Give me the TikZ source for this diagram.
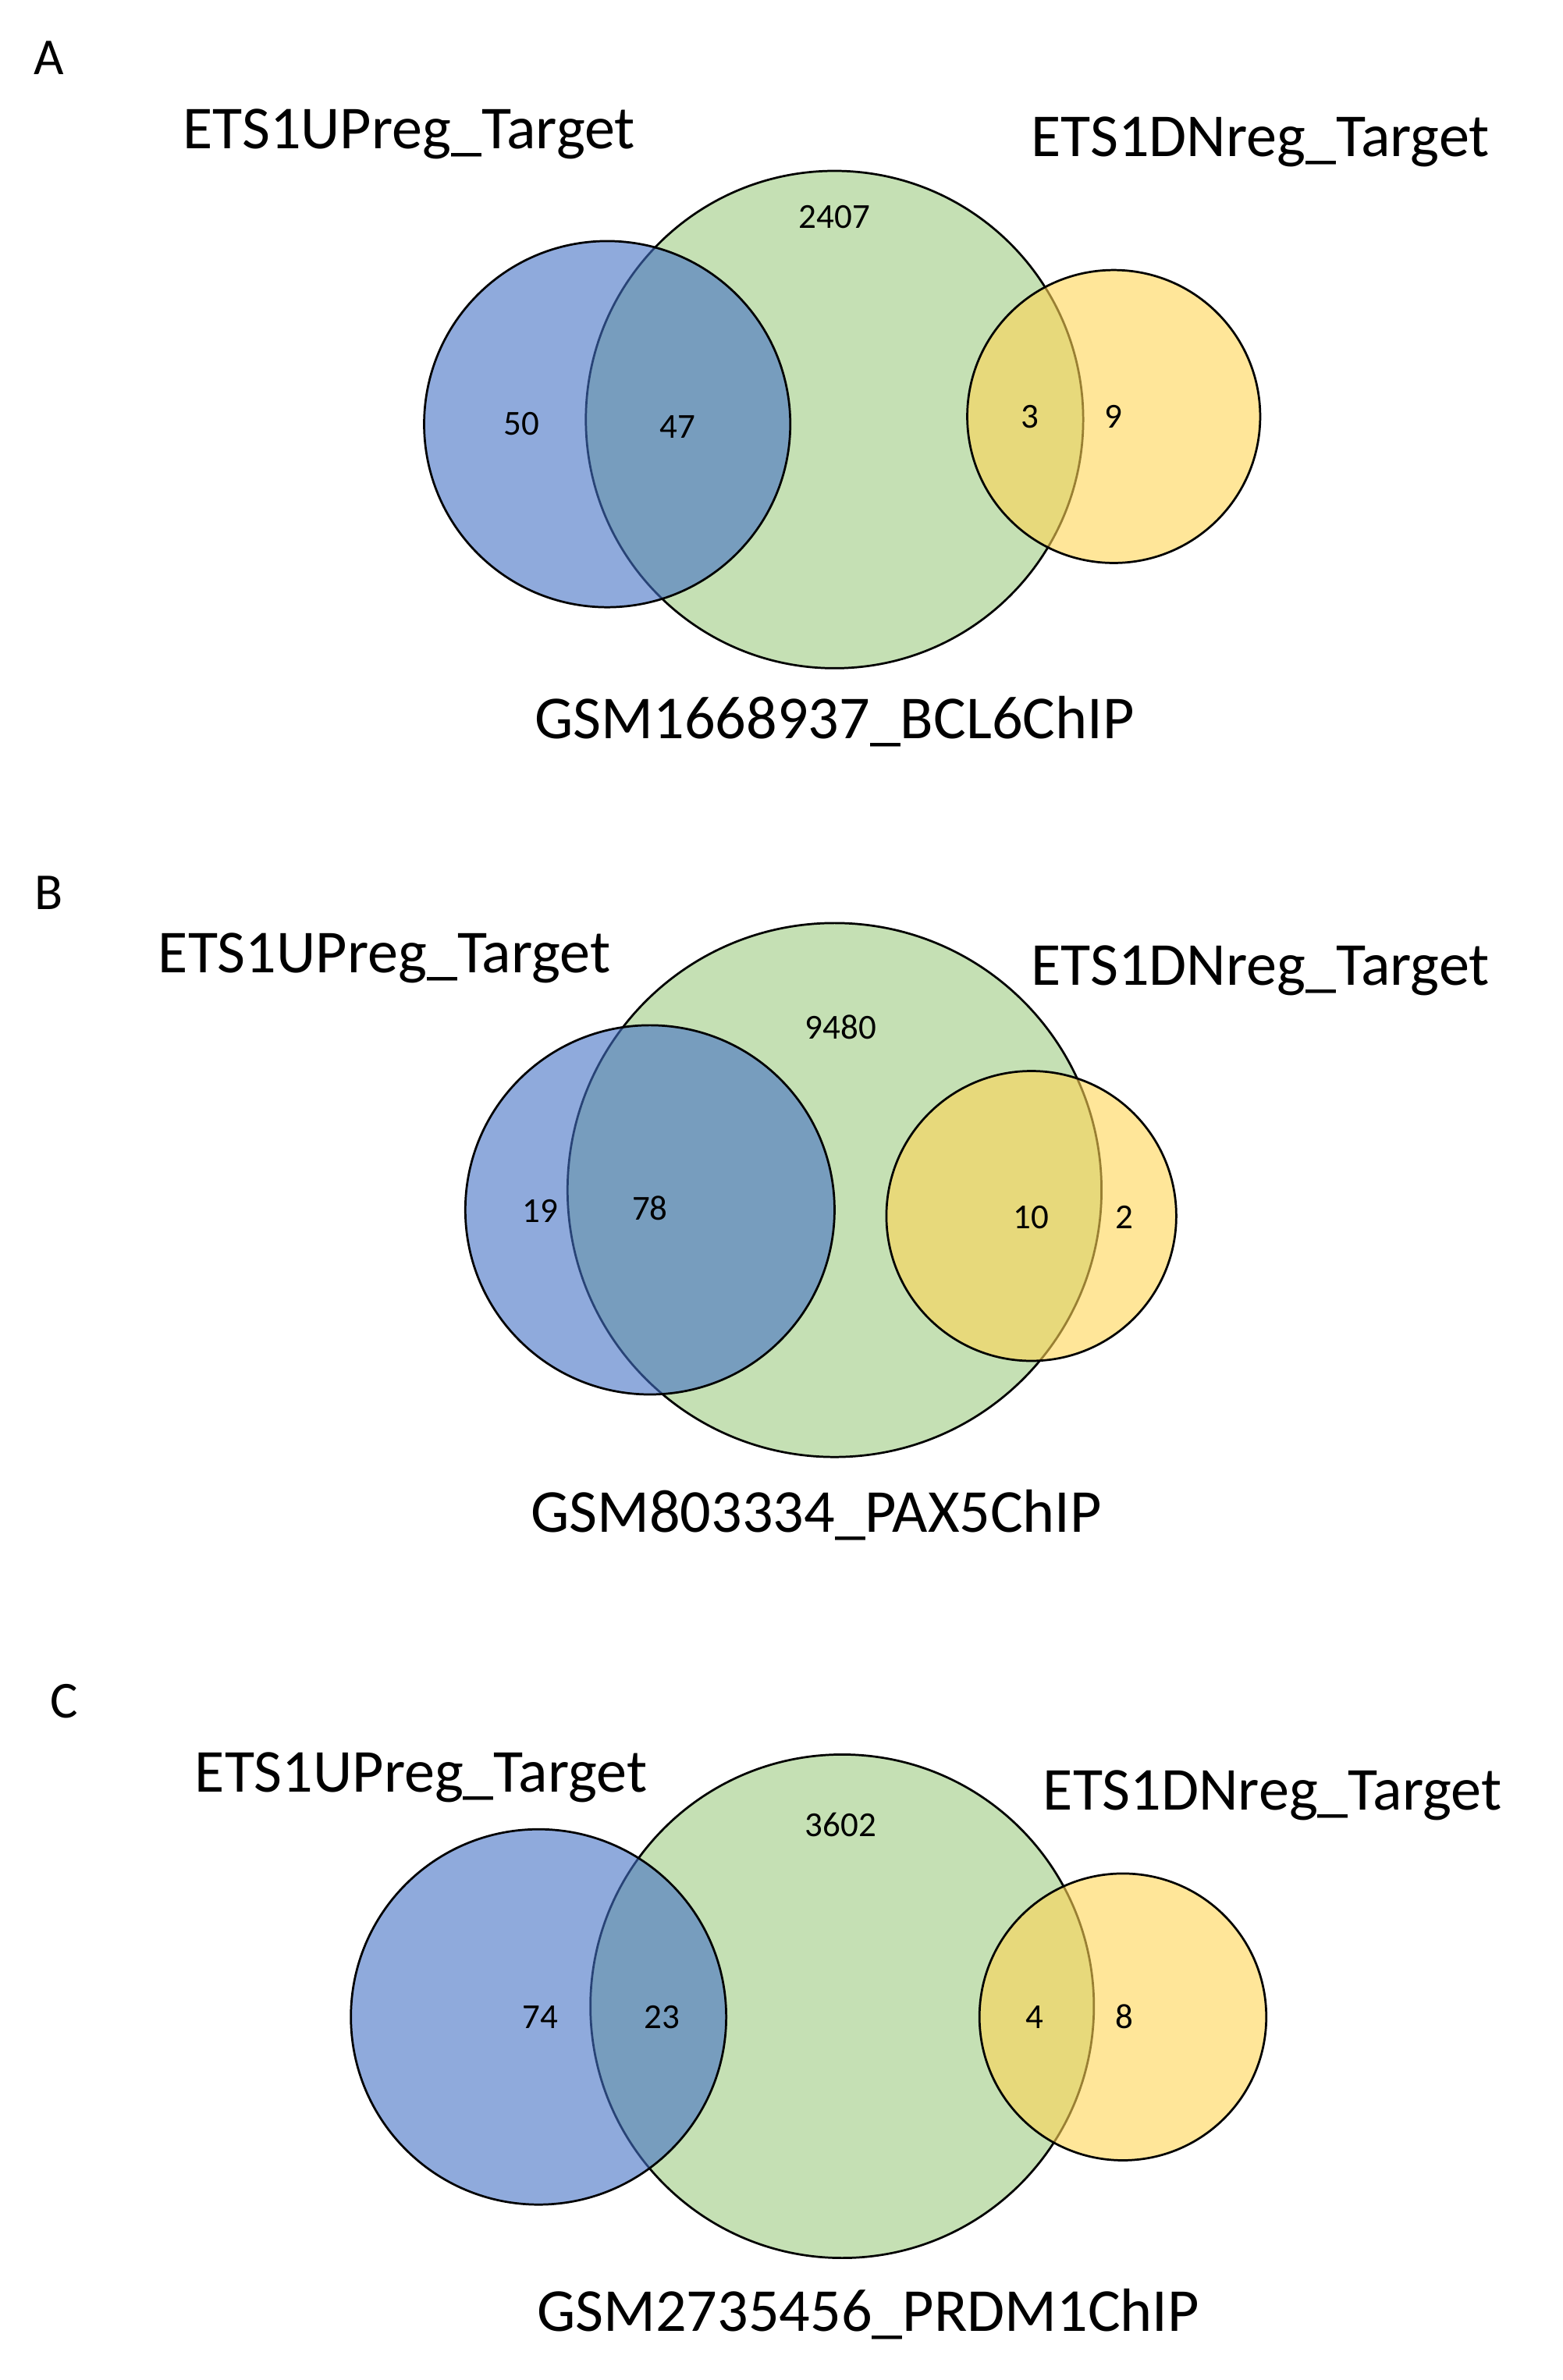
\documentclass[tikz,border=0pt]{standalone}
\usepackage{fontspec}
\setmainfont{Carlito}
\definecolor{gr}{HTML}{C5E0B4}
\definecolor{bl}{HTML}{4471C5}
\definecolor{ye}{HTML}{FFD555}
\begin{document}
\begin{tikzpicture}[x=0.5pt,y=-0.5pt,
  lab/.style={font=\fontsize{20}{24}\selectfont},
  num/.style={font=\fontsize{11.5}{14}\selectfont},
  pan/.style={font=\fontsize{17}{20}\selectfont},
  gc/.style={fill=gr,draw=black,line width=0.7pt},
  bc/.style={fill=bl,fill opacity=0.6,draw=black,draw opacity=1,line width=0.7pt},
  yc/.style={fill=ye,fill opacity=0.6,draw=black,draw opacity=1,line width=0.7pt}]
\useasboundingbox (0,0) rectangle (1024,1560);
% Panel A
\node[pan] (pA) at (32,38) {A};
\draw[gc] (547,275) circle (163);
\draw[bc] (398,278) circle (120);
\draw[yc] (730,273) circle (96);
\node[lab] (uA) at (268,88) {ETS1UPreg\_Target};
\node[lab] (dA) at (826,93) {ETS1DNreg\_Target};
\node[lab] (gA) at (547,473) {GSM1668937\_BCL6ChIP};
\node[num] (a1) at (547,142) {2407};
\node[num] (a2) at (342,278) {50};
\node[num] (a3) at (444,280) {47};
\node[num] (a4) at (675,273) {3};
\node[num] (a5) at (730,273) {9};
% Panel B
\node[pan] (pB) at (32,585) {B};
\draw[gc] (547,780) circle (175);
\draw[bc] (426,793) circle (121);
\draw[yc] (676,797) circle (95);
\node[lab] (uB) at (252,628) {ETS1UPreg\_Target};
\node[lab] (dB) at (826,636) {ETS1DNreg\_Target};
\node[lab] (gB) at (535,993) {GSM803334\_PAX5ChIP};
\node[num] (b1) at (551,673) {9480};
\node[num] (b2) at (354,794) {19};
\node[num] (b3) at (426,792) {78};
\node[num] (b4) at (676,798) {10};
\node[num] (b5) at (737,798) {2};
% Panel C
\node[pan] (pC) at (42,1115) {C};
\draw[gc] (552,1315) circle (165);
\draw[bc] (353,1322) circle (123);
\draw[yc] (736,1322) circle (94);
\node[lab] (uC) at (276,1165) {ETS1UPreg\_Target};
\node[lab] (dC) at (834,1177) {ETS1DNreg\_Target};
\node[lab] (gC) at (569,1517) {GSM2735456\_PRDM1ChIP};
\node[num] (c1) at (551,1196) {3602};
\node[num] (c2) at (354,1322) {74};
\node[num] (c3) at (434,1322) {23};
\node[num] (c4) at (678,1322) {4};
\node[num] (c5) at (737,1322) {8};
\end{tikzpicture}
\end{document}
